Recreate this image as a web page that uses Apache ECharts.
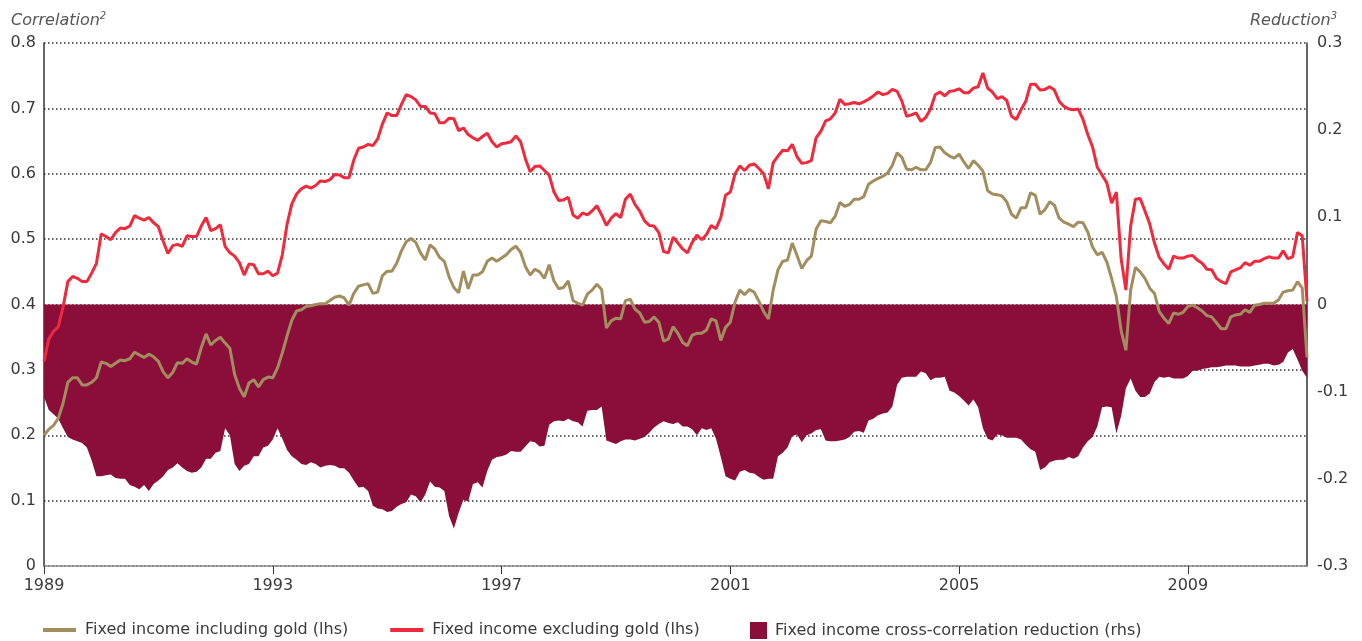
<!DOCTYPE html>
<html>
<head>
<meta charset="utf-8">
<script src="https://cdn.jsdelivr.net/npm/echarts@6/dist/echarts.min.js"></script>
<style>
  html, body { margin: 0; padding: 0; background: #fff; }
  #main { width: 1362px; height: 641px; }
</style>
</head>
<body>
<div id="main"></div>
<script>
// monthly observations, Jan 1989 onwards
var startYear = 1989;

// Fixed income including gold (lhs)
var incGold = [
  0.200,0.209,0.215,0.226,0.249,0.281,0.288,0.288,0.277,0.277,0.281,0.288,0.312,0.310,0.305,0.310,0.315,0.314,0.317,0.327,
  0.323,0.319,0.324,0.320,0.313,0.297,0.288,0.296,0.311,0.310,0.317,0.312,0.309,0.334,0.355,0.338,0.345,0.350,0.341,0.333,
  0.293,0.272,0.259,0.280,0.285,0.274,0.285,
  0.289,0.288,0.303,0.326,0.352,0.376,0.390,0.392,0.397,0.398,0.400,0.401,0.401,0.406,0.411,0.413,0.410,0.399,0.417,0.428,
  0.430,0.432,0.417,0.419,0.444,0.451,0.451,0.463,0.482,0.496,0.501,0.495,0.479,0.468,0.491,0.485,0.472,0.466,0.442,0.426,
  0.418,0.451,0.424,0.445,0.445,
  0.450,0.466,0.471,0.466,0.471,0.476,0.484,0.489,0.480,0.458,0.445,0.454,0.450,0.440,0.461,0.436,0.424,0.426,0.436,0.406,
  0.402,0.399,0.416,0.422,0.431,0.423,0.364,0.375,0.379,0.378,0.406,0.408,0.393,0.387,0.373,0.374,0.381,0.373,0.344,0.347,
  0.366,0.356,0.342,0.337,0.353,
  0.356,0.356,0.361,0.378,0.375,0.345,0.365,0.373,0.404,0.422,0.415,0.423,0.419,0.405,0.389,0.378,0.422,0.453,0.466,0.468,
  0.494,0.475,0.455,0.467,0.474,0.515,0.528,0.527,0.525,0.535,0.556,0.550,0.553,0.561,0.561,0.565,0.584,0.589,0.593,0.596,
  0.601,0.613,0.632,0.625,0.607,
  0.606,0.610,0.606,0.606,0.617,0.640,0.641,0.632,0.627,0.624,0.630,0.618,0.608,0.620,0.613,0.604,0.574,0.569,0.568,0.566,
  0.557,0.538,0.532,0.548,0.548,0.571,0.567,0.538,0.545,0.557,0.552,0.532,0.526,0.523,0.519,0.526,0.525,0.511,0.488,0.476,
  0.480,0.465,0.440,0.412,
  0.360,0.330,0.422,0.457,0.450,0.440,0.425,0.417,0.389,0.379,0.371,0.387,0.385,0.388,0.397,0.399,0.395,0.390,0.383,0.381,
  0.372,0.363,0.363,0.381,0.384,0.385,0.392,0.388,0.399,0.400,0.402,0.402,0.402,0.407,0.419,0.421,0.422,0.435,0.425,0.319
];

// Fixed income excluding gold (lhs)
var excGold = [
  0.313,0.347,0.359,0.366,0.396,0.435,0.443,0.440,0.435,0.435,0.448,0.463,0.508,0.504,0.499,0.510,0.517,0.516,0.520,0.536,
  0.532,0.529,0.533,0.525,0.519,0.497,0.478,0.490,0.492,0.489,0.505,0.504,0.504,0.520,0.533,0.513,0.516,0.522,0.489,0.479,
  0.474,0.464,0.445,0.462,0.461,0.447,0.447,
  0.451,0.444,0.448,0.476,0.523,0.554,0.569,0.577,0.581,0.578,0.582,0.589,0.588,0.591,0.599,0.598,0.594,0.594,0.621,0.639,
  0.641,0.645,0.643,0.653,0.676,0.693,0.689,0.689,0.706,0.721,0.718,0.713,0.703,0.703,0.693,0.692,0.678,0.678,0.685,0.684,
  0.666,0.670,0.660,0.655,0.651,
  0.657,0.662,0.649,0.641,0.646,0.647,0.649,0.658,0.649,0.623,0.603,0.611,0.612,0.605,0.598,0.572,0.559,0.560,0.564,0.537,
  0.532,0.540,0.537,0.543,0.551,0.537,0.521,0.532,0.539,0.533,0.561,0.569,0.553,0.543,0.528,0.521,0.520,0.510,0.481,0.479,
  0.503,0.494,0.485,0.479,0.495,
  0.506,0.499,0.507,0.521,0.516,0.533,0.567,0.572,0.600,0.612,0.605,0.613,0.615,0.608,0.600,0.577,0.617,0.627,0.636,0.635,
  0.645,0.626,0.616,0.617,0.620,0.655,0.665,0.681,0.684,0.693,0.714,0.706,0.707,0.709,0.707,0.710,0.714,0.719,0.725,0.721,
  0.723,0.729,0.726,0.711,0.688,
  0.690,0.693,0.680,0.686,0.699,0.721,0.725,0.719,0.726,0.727,0.730,0.724,0.724,0.731,0.733,0.754,0.731,0.725,0.715,0.718,
  0.712,0.688,0.683,0.698,0.711,0.737,0.737,0.728,0.729,0.733,0.728,0.711,0.703,0.699,0.698,0.699,0.683,0.660,0.641,0.610,
  0.598,0.586,0.555,0.572,
  0.470,0.422,0.520,0.561,0.562,0.543,0.523,0.494,0.472,0.462,0.454,0.474,0.471,0.471,0.474,0.475,0.468,0.463,0.454,0.453,
  0.440,0.435,0.432,0.450,0.453,0.456,0.464,0.460,0.466,0.466,0.470,0.473,0.471,0.471,0.482,0.470,0.473,0.510,0.505,0.405
];

// Fixed income cross-correlation reduction (rhs)
var reduction = [
  -0.106,-0.121,-0.126,-0.131,-0.142,-0.152,-0.155,-0.157,-0.159,-0.164,-0.179,-0.197,-0.197,-0.196,-0.195,-0.199,-0.200,-0.200,-0.207,-0.209,
  -0.212,-0.207,-0.214,-0.206,-0.202,-0.197,-0.190,-0.187,-0.182,-0.187,-0.191,-0.193,-0.192,-0.187,-0.177,-0.177,-0.170,-0.168,-0.142,-0.150,
  -0.183,-0.191,-0.185,-0.183,-0.174,-0.174,-0.164,
  -0.162,-0.155,-0.142,-0.154,-0.167,-0.174,-0.178,-0.183,-0.184,-0.181,-0.183,-0.187,-0.185,-0.184,-0.185,-0.188,-0.188,-0.193,-0.202,-0.210,
  -0.209,-0.214,-0.231,-0.234,-0.235,-0.238,-0.237,-0.232,-0.229,-0.227,-0.218,-0.220,-0.227,-0.218,-0.203,-0.209,-0.210,-0.214,-0.243,-0.257,
  -0.239,-0.224,-0.226,-0.206,-0.204,
  -0.210,-0.191,-0.178,-0.175,-0.174,-0.172,-0.168,-0.169,-0.169,-0.163,-0.157,-0.158,-0.163,-0.162,-0.138,-0.134,-0.133,-0.134,-0.131,-0.134,
  -0.135,-0.140,-0.122,-0.121,-0.121,-0.117,-0.156,-0.158,-0.160,-0.157,-0.155,-0.155,-0.156,-0.154,-0.152,-0.147,-0.141,-0.137,-0.134,-0.136,
  -0.137,-0.135,-0.140,-0.140,-0.143,
  -0.150,-0.142,-0.144,-0.142,-0.154,-0.175,-0.197,-0.200,-0.202,-0.192,-0.190,-0.193,-0.194,-0.198,-0.201,-0.200,-0.200,-0.174,-0.170,-0.164,
  -0.151,-0.149,-0.158,-0.150,-0.148,-0.144,-0.143,-0.156,-0.157,-0.157,-0.156,-0.155,-0.152,-0.146,-0.145,-0.147,-0.133,-0.131,-0.127,-0.125,
  -0.124,-0.117,-0.092,-0.084,-0.083,
  -0.083,-0.083,-0.077,-0.079,-0.087,-0.084,-0.084,-0.083,-0.099,-0.101,-0.105,-0.110,-0.116,-0.109,-0.118,-0.142,-0.154,-0.156,-0.149,-0.150,
  -0.153,-0.153,-0.153,-0.155,-0.161,-0.166,-0.169,-0.190,-0.187,-0.181,-0.179,-0.178,-0.178,-0.175,-0.177,-0.174,-0.164,-0.157,-0.152,-0.140,
  -0.118,-0.117,-0.118,-0.148,
  -0.128,-0.096,-0.085,-0.099,-0.106,-0.106,-0.102,-0.089,-0.083,-0.084,-0.083,-0.085,-0.085,-0.085,-0.082,-0.076,-0.076,-0.074,-0.073,-0.072,
  -0.072,-0.071,-0.070,-0.070,-0.070,-0.071,-0.071,-0.071,-0.070,-0.069,-0.068,-0.068,-0.070,-0.069,-0.066,-0.055,-0.051,-0.063,-0.076,-0.084
];

var months = [];
for (var i = 0; i < incGold.length; i++) {
  var y = startYear + Math.floor(i / 12);
  var m = (i % 12) + 1;
  months.push(y + '-' + (m < 10 ? '0' + m : m));
}

var FONT = 'DejaVu Sans';
var TXT = '#3a3a3a';

// italic axis caption with a small superscript note number
function caption(pos) {
  var t = {
    top: 6,
    textStyle: {
      fontWeight: 'normal',
      rich: {
        a: { fontFamily: FONT, fontStyle: 'italic', fontWeight: 'normal', fontSize: 16, color: '#555', lineHeight: 20 },
        b: { fontFamily: FONT, fontStyle: 'italic', fontWeight: 'normal', fontSize: 10, color: '#555', verticalAlign: 'top', lineHeight: 14 }
      }
    }
  };
  for (var k in pos) t[k] = pos[k];
  return t;
}

var myChart = echarts.init(document.getElementById('main'));
var option = {
  animation: false,
  backgroundColor: '#fff',
  textStyle: { fontFamily: FONT },
  title: [
    caption({ text: '{a|Correlation}{b|2}', left: 6 }),
    caption({ text: '{a|Reduction}{b|3}', right: 20 })
  ],
  legend: [{
    left: 38, top: 617,
    icon: 'rect',
    itemWidth: 33, itemHeight: 4,
    itemGap: 42,
    textStyle: { fontFamily: FONT, fontSize: 16, color: TXT, padding: [0, 0, 0, 4] },
    data: ['Fixed income including gold (lhs)', 'Fixed income excluding gold (lhs)']
  }, {
    left: 745, top: 617,
    icon: 'rect',
    itemWidth: 17, itemHeight: 17,
    textStyle: { fontFamily: FONT, fontSize: 16, color: TXT, padding: [0, 0, 0, 3] },
    data: ['Fixed income cross-correlation reduction (rhs)']
  }],
  grid: { left: 44, right: 55, top: 43, bottom: 75 },
  xAxis: {
    type: 'category',
    data: months,
    boundaryGap: false,
    axisLine: { lineStyle: { color: '#8a8a8a', width: 1.5 } },
    axisTick: { interval: 47, length: 8, lineStyle: { color: '#333', width: 1 } },
    axisLabel: {
      interval: 47,
      margin: 12,
      fontFamily: FONT, fontSize: 16, color: TXT,
      formatter: function (v) { return v.slice(0, 4); }
    },
    splitLine: { show: false }
  },
  yAxis: [{
    type: 'value',
    min: 0, max: 0.8, interval: 0.1,
    axisLine: { show: true, lineStyle: { color: '#333', width: 1.5 } },
    axisTick: { show: false },
    axisLabel: {
      margin: 8,
      fontFamily: FONT, fontSize: 16, color: TXT,
      formatter: function (v) { return Math.abs(v) < 1e-9 ? '0' : v.toFixed(1); }
    },
    splitLine: { show: true, lineStyle: { color: '#333', width: 1.5, type: [1.5, 2.5] } }
  }, {
    type: 'value',
    min: -0.3, max: 0.3, interval: 0.1,
    position: 'right',
    axisLine: { show: true, lineStyle: { color: '#333', width: 1.5 } },
    axisTick: { show: false },
    axisLabel: {
      margin: 10,
      fontFamily: FONT, fontSize: 16, color: TXT,
      formatter: function (v) { return Math.abs(v) < 1e-9 ? '0' : v.toFixed(1); }
    },
    splitLine: { show: false }
  }],
  series: [{
    name: 'Fixed income cross-correlation reduction (rhs)',
    type: 'line',
    yAxisIndex: 1,
    data: reduction,
    symbol: 'none',
    z: 1,
    itemStyle: { color: '#8b0d3a' },
    lineStyle: { width: 0 },
    areaStyle: { color: '#8b0d3a', opacity: 1 }
  }, {
    name: 'Fixed income including gold (lhs)',
    type: 'line',
    yAxisIndex: 0,
    data: incGold,
    symbol: 'none',
    z: 3,
    itemStyle: { color: '#a28d5f' },
    lineStyle: { color: '#a28d5f', width: 3 }
  }, {
    name: 'Fixed income excluding gold (lhs)',
    type: 'line',
    yAxisIndex: 0,
    data: excGold,
    symbol: 'none',
    z: 4,
    itemStyle: { color: '#ee2a3c' },
    lineStyle: { color: '#ee2a3c', width: 3 }
  }]
};
myChart.setOption(option);
</script>
</body>
</html>
